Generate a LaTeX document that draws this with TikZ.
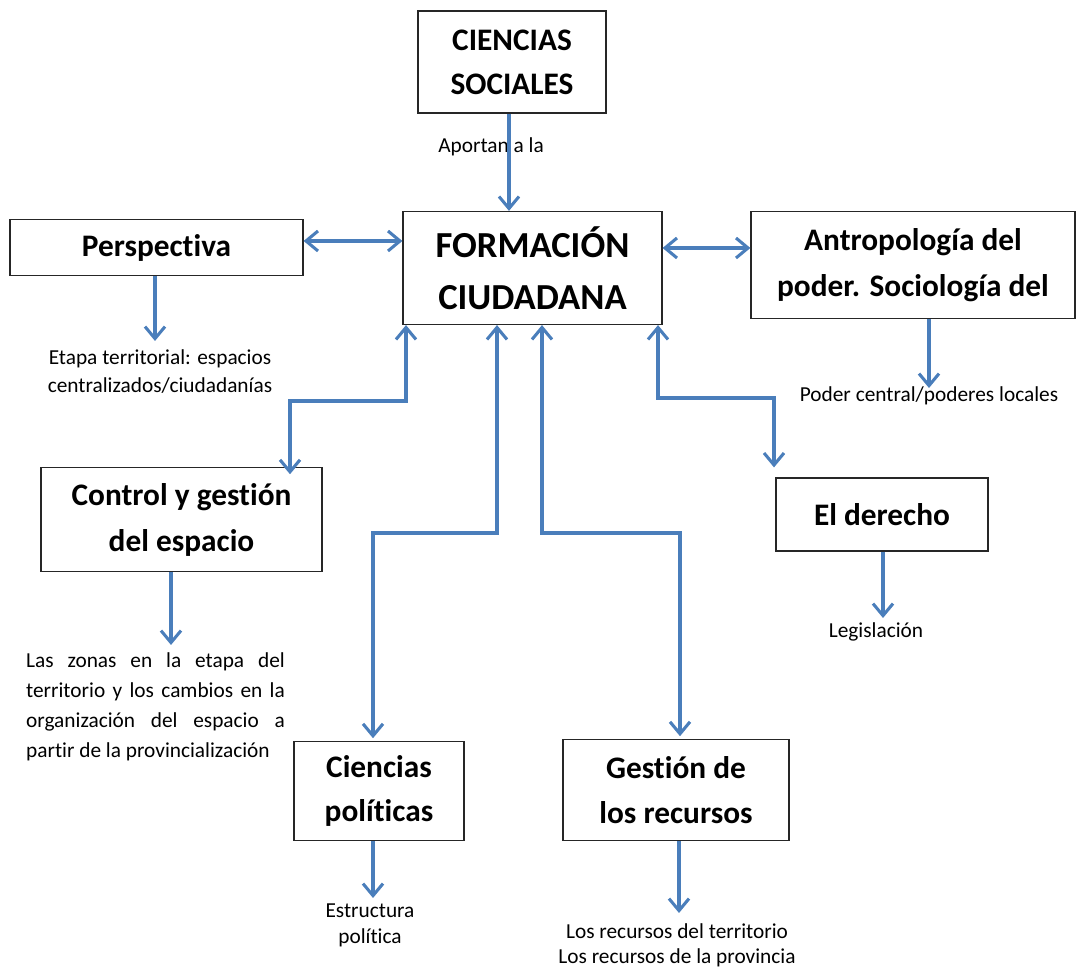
\documentclass[tikz,border=0pt]{standalone}
\usepackage{fontspec}
\setmainfont{Carlito}[Ligatures=NoCommon]
\usetikzlibrary{arrows.meta}
\definecolor{ablue}{HTML}{4A7EBB}
\begin{document}
\begin{tikzpicture}[x=0.75pt,y=-0.75pt,
  box/.style={draw=black!85,line width=0.9pt,align=center,inner sep=0pt,font=\bfseries\fontsize{23.5}{33}\selectfont},
  lbl/.style={align=center,inner sep=0pt,font=\fontsize{16}{21}\selectfont},
  conn/.style={draw=ablue,line width=2.3pt,-{Straight Barb[length=9pt,width=15pt,line width=2.3pt]}},
  biconn/.style={draw=ablue,line width=2.3pt,{Straight Barb[length=9pt,width=15pt,line width=2.3pt]}-{Straight Barb[length=9pt,width=15pt,line width=2.3pt]}}]
\useasboundingbox (0,0) rectangle (1076,969);
% boxes
\node[box,minimum width=188*0.75pt,minimum height=102*0.75pt] (cs) at (512,62) {CIENCIAS\\SOCIALES};
\node[box,minimum width=259*0.75pt,minimum height=113*0.75pt,font=\bfseries\fontsize{27.5}{39}\selectfont] (fc) at (532.5,268) {FORMACIÓN\\CIUDADANA};
\node[box,minimum width=293*0.75pt,minimum height=56*0.75pt] (pe) at (156.5,247.5) {Perspectiva};
\node[box,minimum width=324*0.75pt,minimum height=107*0.75pt,font=\bfseries\fontsize{23.5}{34}\selectfont] (an) at (913,265) {Antropología del\\poder. Sociología del};
\node[box,minimum width=281*0.75pt,minimum height=104*0.75pt,font=\bfseries\fontsize{23.5}{34.5}\selectfont] (ct) at (181.5,519.5) {Control y gestión\\del espacio};
\node[box,minimum width=212*0.75pt,minimum height=73*0.75pt] (de) at (882,514.5) {El derecho};
\node[box,minimum width=170*0.75pt,minimum height=99*0.75pt] (cp) at (379,791) {Ciencias\\políticas};
\node[box,minimum width=226*0.75pt,minimum height=101*0.75pt,font=\bfseries\fontsize{23.5}{34}\selectfont] (gr) at (676,790) {Gestión de\\los recursos};
% labels
\node[lbl,anchor=west] (l1) at (438,147) {Aportan a la};
\node[lbl] (l2) at (160,372) {Etapa territorial: espacios\\centralizados/ciudadanías};
\node[lbl] (l3) at (929,396) {Poder central/poderes locales};
\node[lbl,align=justify,text width=194pt,font=\fontsize{16}{22.5}\selectfont] (l4) at (155.5,706.5) {Las zonas en la etapa del\linebreak territorio y los cambios en la\linebreak organización del espacio a\linebreak partir de la provincialización};
\node[lbl] (l5) at (876,632) {Legislación};
\node[lbl,font=\fontsize{16}{19.5}\selectfont] (l6) at (370,925) {Estructura\\política};
\node[lbl,font=\fontsize{16}{19}\selectfont] (l7) at (677,945.5) {Los recursos del territorio\\Los recursos de la provincia};
% coordinates
\coordinate (s1) at (509,0);
\coordinate (a1) at (406,401);
\coordinate (a2) at (290,401);
\coordinate (b1) at (497,533);
\coordinate (b2) at (373,533);
\coordinate (c1) at (542,533);
\coordinate (c2) at (680,533);
\coordinate (d1) at (658,398);
\coordinate (d2) at (774,398);
\coordinate (t1) at (155,341);
\coordinate (t2) at (929,388);
\coordinate (t3) at (171,645);
\coordinate (t4) at (883,618);
\coordinate (t5) at (373,898);
\coordinate (t6) at (679,913);
% connectors
\draw[conn] (cs.south -| s1) -- (fc.north -| s1);
\draw[biconn] (pe.east |- 0,241) -- (fc.west |- 0,241);
\draw[biconn] (fc.east |- 0,248) -- (an.west |- 0,248);
\draw[biconn] (fc.south -| a1) -- (a1) -- (a2) -- ([yshift=-5.5pt]ct.north -| a2);
\draw[biconn] (fc.south -| b1) -- (b1) -- (b2) -- ([yshift=2pt]cp.north -| b2);
\draw[biconn] (fc.south -| c1) -- (c1) -- (c2) -- ([yshift=2pt]gr.north -| c2);
\draw[biconn] (fc.south -| d1) -- (d1) -- (d2) -- ([yshift=7.5pt]de.north -| d2);
\draw[conn] (pe.south -| t1) -- (t1);
\draw[conn] (an.south -| t2) -- (t2);
\draw[conn] (ct.south -| t3) -- (t3);
\draw[conn] (de.south -| t4) -- (t4);
\draw[conn] (cp.south -| t5) -- (t5);
\draw[conn] (gr.south -| t6) -- (t6);
\end{tikzpicture}
\end{document}
